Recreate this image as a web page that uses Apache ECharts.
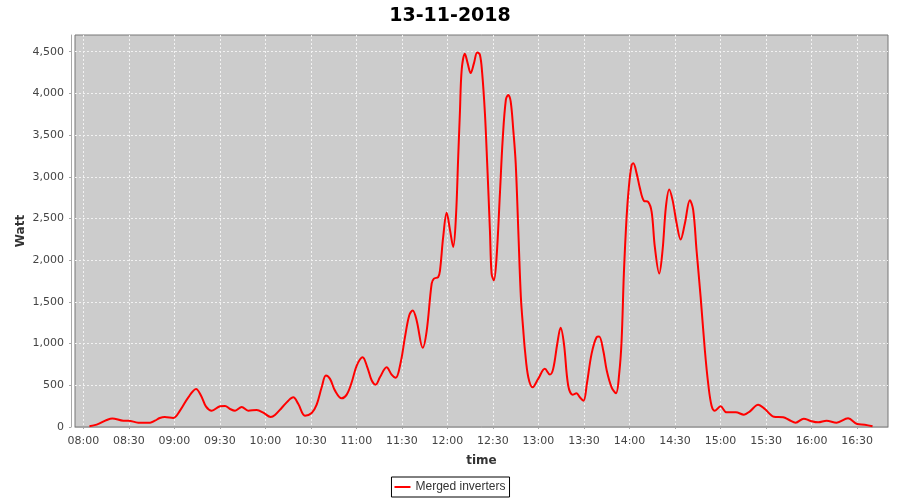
<!DOCTYPE html>
<html>
<head>
<meta charset="utf-8">
<script src="https://cdn.jsdelivr.net/npm/echarts@6/dist/echarts.min.js"></script>
<style>
  html, body { margin: 0; padding: 0; background: #fff; }
  #chart { width: 900px; height: 500px; }
</style>
</head>
<body>
<div id="chart"></div>
<script>
// minutes after 08:00 for each reading
const minutes = [
  4.0, 8.8, 15.4, 19.1, 26.4, 29.7, 36.2, 44.0, 47.2, 50.4, 53.7, 59.3,
  63.7, 69.2, 74.3, 77.6, 80.9, 84.6, 90.1, 93.4, 96.7, 100.0, 104.4, 108.7,
  114.3, 118.6, 123.5, 126.3, 130.7, 135.1, 138.4, 141.7, 146.1, 150.5, 153.8, 157.1,
  159.9, 162.6, 165.9, 170.3, 173.6, 176.9, 180.2, 184.1, 187.2, 190.1, 192.7, 195.5,
  199.9, 203.2, 205.9, 209.2, 212.0, 214.8, 217.1, 219.7, 223.7, 226.3, 229.6, 231.1,
  233.9, 235.1, 237.2, 239.5, 241.7, 243.8, 245.6, 247.1, 248.2, 249.4, 251.5, 253.3,
  255.3, 257.5, 259.6, 261.4, 262.9, 264.7, 266.2, 268.0, 269.1, 270.6, 272.4, 274.6,
  276.4, 278.5, 280.1, 281.7, 283.4, 285.0, 286.7, 288.4, 290.0, 291.1, 293.3, 296.2,
  299.8, 304.2, 307.5, 309.7, 312.4, 314.6, 316.8, 319.6, 322.5, 325.1, 327.3, 329.7,
  331.9, 335.0, 338.3, 340.0, 342.7, 345.0, 348.2, 351.1, 353.2, 354.8, 356.3, 358.1,
  359.6, 361.4, 362.5, 364.7, 366.9, 369.5, 372.3, 374.6, 376.7, 379.6, 381.8, 384.0,
  386.2, 388.4, 391.1, 393.7, 396.5, 399.8, 402.0, 404.2, 406.9, 409.7, 411.9, 414.1,
  416.3, 420.0, 424.0, 430.1, 435.4, 439.4, 444.8, 449.2, 455.2, 461.3, 465.3, 469.5,
  474.9, 478.9, 484.4, 489.9, 496.5, 504.1, 510.1, 515.1, 520.2
];
const watts = [
  10, 28, 84, 103, 76, 76, 52, 52, 76, 108, 120, 108,
  196, 356, 457, 376, 244, 196, 248, 252, 216, 196, 240, 196,
  204, 172, 120, 144, 228, 316, 356, 276, 136, 168, 268, 476,
  617, 577, 436, 344, 388, 536, 737, 837, 716, 557, 508, 596,
  716, 628, 589, 777, 1077, 1338, 1398, 1278, 950, 1150, 1719, 1779,
  1798, 1879, 2279, 2568, 2360, 2159, 2519, 3240, 3762, 4283, 4475, 4363,
  4243, 4363, 4491, 4463, 4243, 3762, 3161, 2360, 1839, 1759, 2039, 2801,
  3442, 3922, 3982, 3902, 3561, 3161, 2360, 1558, 1158, 917, 596, 476,
  577, 697, 628, 697, 998, 1190, 998, 496, 388, 404, 356, 316,
  517, 877, 1077, 1085, 917, 677, 476, 404, 637, 1037, 1839, 2519,
  2880, 3141, 3161, 3041, 2861, 2712, 2700, 2580, 2159, 1839, 2119, 2640,
  2849, 2720, 2440, 2248, 2440, 2720, 2600, 2119, 1558, 917, 517, 256,
  196, 248, 176, 176, 148, 188, 268, 216, 124, 116, 84, 52,
  100, 76, 56, 76, 52, 104, 36, 28, 8
];

const timeTicks = [480, 510, 540, 570, 600, 630, 660, 690, 720, 750, 780, 810, 840, 870, 900, 930, 960, 990];
const wattTicks = [0, 500, 1000, 1500, 2000, 2500, 3000, 3500, 4000, 4500];

const seriesName = 'Merged inverters';
const chartTitle = '13-11-2018';

const pad = n => (n < 10 ? '0' : '') + n;
const fmtTime = m => pad(Math.floor(m / 60)) + ':' + pad(Math.round(m % 60));
const fmtWatt = v => v.toLocaleString('en-US');

const points = minutes.map((m, i) => [480 + m, watts[i]]);

const chart = echarts.init(document.getElementById('chart'));

const tickFont = { fontFamily: 'DejaVu Sans', fontSize: 11, color: '#444444' };
const gridLine = { show: true, lineStyle: { color: '#f2f2f2', width: 1, type: [2, 2] } };
const axisGray = '#a8a8a8';

chart.setOption({
  animation: false,
  title: {
    text: chartTitle,
    left: 'center',
    top: 2,
    textStyle: { fontFamily: 'DejaVu Sans', fontWeight: 'bold', fontSize: 19, color: '#000' }
  },
  legend: {
    data: [{ name: seriesName, icon: 'rect' }],
    left: 'center',
    top: 477,
    padding: [4, 4, 4, 3],
    borderColor: '#000',
    borderWidth: 1,
    itemWidth: 16,
    itemHeight: 2,
    textStyle: { fontFamily: 'Liberation Sans', fontSize: 12, color: '#333' }
  },
  grid: {
    left: 75,
    right: 12,
    top: 35,
    bottom: 73,
    show: true,
    backgroundColor: '#cccccc',
    borderColor: '#777777',
    borderWidth: 1
  },
  xAxis: {
    type: 'value',
    min: 474.5,
    max: 1010.4,
    offset: 4,
    name: 'time',
    nameLocation: 'middle',
    nameGap: 24,
    nameMoveOverlap: false,
    nameTextStyle: { fontFamily: 'DejaVu Sans', fontWeight: 'bold', fontSize: 12, color: '#333' },
    axisLine: { show: true, lineStyle: { color: axisGray } },
    axisTick: { show: true, length: 2, customValues: timeTicks, lineStyle: { color: axisGray } },
    axisLabel: { ...tickFont, margin: 5, customValues: timeTicks, formatter: fmtTime },
    splitLine: gridLine
  },
  yAxis: {
    type: 'value',
    min: 0,
    max: 4700,
    offset: 4,
    name: 'Watt',
    nameLocation: 'middle',
    nameGap: 44,
    nameMoveOverlap: false,
    nameTextStyle: { fontFamily: 'DejaVu Sans', fontWeight: 'bold', fontSize: 12, color: '#333' },
    axisLine: { show: true, lineStyle: { color: axisGray } },
    axisTick: { show: true, length: 2, customValues: wattTicks, lineStyle: { color: axisGray } },
    axisLabel: { ...tickFont, margin: 7, customValues: wattTicks, formatter: fmtWatt },
    splitLine: gridLine
  },
  series: [
    {
      name: seriesName,
      type: 'line',
      data: points,
      smooth: 0.35,
      symbol: 'none',
      lineStyle: { color: '#ff0000', width: 2 },
      itemStyle: { color: '#ff0000' }
    }
  ]
});
</script>
</body>
</html>
